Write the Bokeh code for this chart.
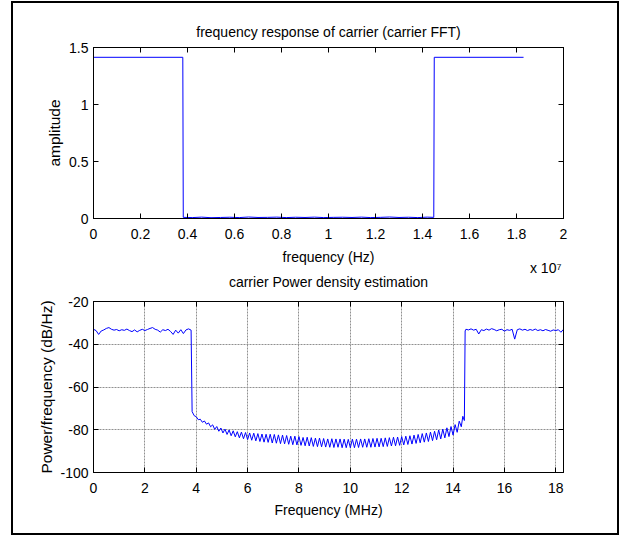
import numpy as np
from bokeh.plotting import figure
from bokeh.layouts import column
from bokeh.models import Range1d, FixedTicker, LinearAxis, Title, CustomJSTickFormatter
from bokeh.embed import file_html
from bokeh.resources import INLINE

FONT = "Liberation Sans"

# ---------------- data: carrier FFT (upper panel) ----------------
fft_title = "frequency response of carrier (carrier FFT)"
fft_freq_hz = [0, 3.80e6, 3.82e6, 4.2e6, 4.6e6, 5.0e6, 5.4e6, 5.8e6, 6.2e6, 6.6e6, 7.0e6,
               7.4e6, 7.8e6, 8.2e6, 8.6e6, 9.0e6, 9.4e6, 9.8e6, 10.2e6, 10.6e6, 11.0e6,
               11.4e6, 11.8e6, 12.2e6, 12.6e6, 13.0e6, 13.4e6, 13.8e6, 14.2e6, 14.48e6,
               14.50e6, 18.3e6]
fft_amplitude = [1.414, 1.414, 0.010, 0.008, 0.012, 0.007, 0.009, 0.011, 0.008, 0.013, 0.009,
                 0.010, 0.012, 0.008, 0.011, 0.009, 0.012, 0.008, 0.010, 0.011, 0.009,
                 0.012, 0.008, 0.010, 0.013, 0.009, 0.011, 0.008, 0.012, 0.010,
                 1.414, 1.414]
fft_x_ticks = [0, 2000000, 4000000, 6000000, 8000000, 10000000, 12000000, 14000000,
               16000000, 18000000, 20000000]
fft_x_tick_labels = ["0", "0.2", "0.4", "0.6", "0.8", "1", "1.2", "1.4", "1.6", "1.8", "2"]
fft_x_scale_note = "x 10\u2077"
fft_y_ticks = [0, 0.5, 1, 1.5]
fft_y_tick_labels = ["0", "0.5", "1", "1.5"]

# ---------------- data: carrier PSD (lower panel) ----------------
psd_title = "carrier Power density estimation"
psd_low_start_mhz, psd_low_step_mhz = 0.0, 0.1
psd_low_db = [-33.0, -33.6, -35.4, -33.8, -33.3, -32.6, -32.2, -33.0, -33.4, -33.1,
              -33.7, -33.2, -33.5, -32.9, -33.6, -34.1, -33.3, -34.2, -33.5, -33.0,
              -33.6, -33.1, -32.6, -32.2, -33.0, -33.4, -34.3, -33.2, -33.6, -33.0,
              -34.0, -35.4, -33.4, -34.8, -33.2, -35.0, -33.3, -32.8, -33.4]
psd_stop_start_mhz, psd_stop_step_mhz = 3.84, 0.08
psd_stop_db = [-71.5, -73.4, -73.9, -75.3, -75.1, -76.5, -75.9, -77.4, -76.8, -78.6,
               -77.7, -79.8, -78.5, -80.7, -79.2, -81.5, -79.7, -82.2, -80.1, -82.8,
               -80.5, -83.3, -80.9, -83.8, -81.1, -84.2, -81.3, -84.6, -81.5, -84.9,
               -81.6, -85.2, -81.8, -85.5, -82.0, -85.8, -82.1, -85.9, -82.1, -86.2,
               -82.2, -86.3, -82.4, -86.5, -82.5, -86.6, -82.7, -86.8, -83.0, -87.0,
               -83.0, -87.1, -83.2, -87.3, -83.6, -87.5, -83.5, -87.6, -83.7, -87.8,
               -83.9, -87.9, -83.9, -88.0, -84.1, -88.1, -84.3, -88.2, -84.2, -88.3,
               -84.3, -88.2, -84.3, -88.4, -84.4, -88.4, -84.5, -88.4, -84.4, -88.4,
               -84.4, -88.3, -84.3, -88.2, -84.3, -88.2, -84.2, -88.2, -84.1, -88.1,
               -84.0, -88.0, -84.0, -87.9, -83.8, -87.8, -83.7, -87.6, -83.5, -87.5,
               -83.4, -87.3, -83.2, -87.1, -83.0, -86.9, -82.8, -86.7, -82.5, -86.4,
               -82.2, -86.1, -81.8, -85.8, -81.5, -85.5, -81.1, -85.1, -80.7, -84.7,
               -80.1, -84.3, -79.7, -83.8, -79.1, -83.2, -78.5, -82.5, -77.6, -81.2,
               -76.0, -78.6]
psd_edge_freq_mhz = [14.38, 14.44, 14.47]
psd_edge_db = [-73.7, -75.7, -33.8]
psd_high_start_mhz, psd_high_step_mhz = 14.5, 0.1
psd_high_db = [-33.0, -33.3, -32.8, -33.4, -33.0, -35.2, -33.2, -33.6, -32.9, -33.4,
               -32.7, -33.1, -33.7, -33.2, -33.0, -33.9, -33.2, -33.5, -33.0, -37.6,
               -33.2, -32.8, -33.4, -33.0, -33.6, -33.1, -33.5, -32.9, -33.6, -33.2,
               -33.7, -33.1, -33.5, -33.9, -33.3, -33.6, -33.2, -34.4, -33.0]
psd_x_ticks = [0, 2, 4, 6, 8, 10, 12, 14, 16, 18]
psd_x_tick_labels = ["0", "2", "4", "6", "8", "10", "12", "14", "16", "18"]
psd_y_ticks = [-100, -80, -60, -40, -20]
psd_y_tick_labels = ["-100", "-80", "-60", "-40", "-20"]


def bins(start, step, n):
    return [round(start + step * i, 4) for i in range(n)]


psd_freq_mhz = (bins(psd_low_start_mhz, psd_low_step_mhz, len(psd_low_db))
                + bins(psd_stop_start_mhz, psd_stop_step_mhz, len(psd_stop_db))
                + psd_edge_freq_mhz
                + bins(psd_high_start_mhz, psd_high_step_mhz, len(psd_high_db)))
psd_db = psd_low_db + psd_stop_db + psd_edge_db + psd_high_db


def fmt(values, labels, blank=False):
    return CustomJSTickFormatter(args=dict(vals=list(values), labs=list(labels), blank=blank), code="""
if (blank) { return ""; }
const i = vals.findIndex(v => Math.abs(v - tick) <= 1e-9 * Math.max(1, Math.abs(v)));
return i >= 0 ? labs[i] : "";
""")


def style_axis(ax, ticks, labels, show, label_standoff=10):
    ax.ticker = FixedTicker(ticks=ticks)
    ax.formatter = fmt(ticks, labels, blank=not show)
    ax.axis_line_color = "black"
    ax.axis_line_width = 1
    ax.major_tick_in = 5
    ax.major_tick_out = 0
    ax.minor_tick_in = 0
    ax.minor_tick_out = 0
    ax.major_tick_line_color = "black"
    ax.major_tick_line_width = 1
    ax.major_label_text_font = FONT
    ax.major_label_text_color = "black"
    ax.major_label_text_font_size = "14px" if show else "0px"
    ax.major_label_standoff = label_standoff if show else 0
    ax.axis_label_text_font = FONT
    ax.axis_label_text_font_style = "normal"
    ax.axis_label_text_color = "black"


def make_title(text, align, vertical_align, standoff, offset=0):
    return Title(text=text, align=align, vertical_align=vertical_align, standoff=standoff,
                 offset=offset, text_font=FONT, text_font_size="14px",
                 text_font_style="normal", text_color="black")


def make_panel(width, height, xr, yr, borders, xt, xl, yt, yl,
               xlabel, xlabel_standoff, ylabel, ylabel_standoff, grid):
    p = figure(width=width, height=height, x_range=xr, y_range=yr,
               output_backend="svg", toolbar_location=None,
               min_border_left=borders[0], min_border_right=borders[1],
               min_border_top=borders[2], min_border_bottom=borders[3])
    p.outline_line_color = "black"
    p.outline_line_width = 1
    p.outline_line_alpha = 1
    p.background_fill_color = "white"
    p.border_fill_color = "white"
    style_axis(p.xaxis[0], xt, xl, True, 10)
    style_axis(p.yaxis[0], yt, yl, True, 5)
    p.xaxis[0].axis_label = xlabel
    p.xaxis[0].axis_label_text_font_size = "14px"
    p.xaxis[0].axis_label_standoff = xlabel_standoff
    p.yaxis[0].axis_label = ylabel
    p.yaxis[0].axis_label_text_font_size = "15.5px"
    p.yaxis[0].axis_label_standoff = ylabel_standoff
    top = LinearAxis()
    style_axis(top, xt, xl, False)
    p.add_layout(top, "above")
    right = LinearAxis()
    style_axis(right, yt, yl, False)
    p.add_layout(right, "right")
    if grid:
        p.xgrid.ticker = FixedTicker(ticks=xt)
        p.ygrid.ticker = FixedTicker(ticks=yt)
        for g in (p.xgrid, p.ygrid):
            g.grid_line_color = "#909090"
            g.grid_line_width = 1
            g.grid_line_dash = "2 1"
    else:
        p.xgrid.visible = False
        p.ygrid.visible = False
    return p


# upper panel (its canvas also carries the caption line that sits between the two axes boxes)
p1 = make_panel(604, 289, Range1d(0, 2e7), Range1d(0, 1.5), (80, 53, 44, 74),
                fft_x_ticks, fft_x_tick_labels, fft_y_ticks, fft_y_tick_labels,
                "frequency (Hz)", 7, "amplitude", 3, False)
p1.add_layout(make_title(fft_title, "center", "bottom", 16), "above")
p1.line(fft_freq_hz, fft_amplitude, line_color="#0000ff", line_width=1)
p1.add_layout(make_title(fft_x_scale_note, "right", "top", -16, offset=2), "below")
p1.add_layout(make_title(psd_title, "center", "bottom", 5), "below")

# lower panel
p2 = make_panel(604, 241, Range1d(0, 18.3), Range1d(-100, -20), (80, 54, 9, 61),
                psd_x_ticks, psd_x_tick_labels, psd_y_ticks, psd_y_tick_labels,
                "Frequency (MHz)", 6, "Power/frequency (dB/Hz)", 2, True)
p2.line(psd_freq_mhz, psd_db, line_color="#0000ff", line_width=1)

layout = column(p1, p2, styles={"border": "2px solid black", "margin-left": "11px",
                                "margin-top": "1px"})

open("out.html", "w").write(file_html(layout, INLINE))
